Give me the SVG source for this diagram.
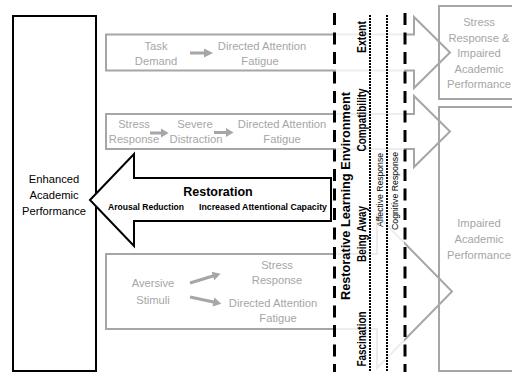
<svg xmlns="http://www.w3.org/2000/svg" width="512" height="376" viewBox="0 0 512 376">
<style>
.g{fill:none;stroke:#a6a6a6;stroke-width:2}
.ga{fill:#a6a6a6;stroke:none}
.gt{font-family:"Liberation Sans",Arial,sans-serif;font-size:11.2px;fill:#a6a6a6;text-anchor:middle}
.bt{font-family:"Liberation Sans",Arial,sans-serif;fill:#000;text-anchor:middle}
.vb{font-weight:bold}
.dash{stroke:#000;stroke-width:3;stroke-dasharray:12 7.5;fill:none}
.dot{stroke:#000;stroke-width:2;stroke-dasharray:2 1;fill:none}
</style>
<rect width="512" height="376" fill="#fff"/>

<g id="enhanced-performance">
<rect x="13" y="16" width="83" height="355" fill="#fff" stroke="#000" stroke-width="2"/>
<text class="bt" font-size="11.2"><tspan x="54" y="183">Enhanced</tspan><tspan x="54" y="199">Academic</tspan><tspan x="54" y="215">Performance</tspan></text>
</g>

<g id="task-demand">
<polygon class="g" points="106,34.5 414,34.5 414,17 450,52.5 414,88 414,70.5 106,70.5"/>
<text class="gt"><tspan x="156" y="50">Task</tspan><tspan x="156" y="64.5">Demand</tspan></text>
<text class="gt"><tspan x="262" y="50">Directed Attention</tspan><tspan x="260" y="64.5">Fatigue</tspan></text>
</g>

<g id="stress-distraction">
<polygon class="g" points="106,114 414,114 414,96 450,131.5 414,167 414,149 106,149"/>
<text class="gt"><tspan x="134" y="128">Stress</tspan><tspan x="134" y="143">Response</tspan></text>
<text class="gt"><tspan x="195" y="128">Severe</tspan><tspan x="196" y="143">Distraction</tspan></text>
<text class="gt"><tspan x="282" y="128">Directed Attention</tspan><tspan x="282" y="143">Fatigue</tspan></text>
</g>

<g id="aversive-stimuli">
<polygon class="g" points="106,254 377,254 377,215 452,291.5 377,368 377,329 106,329"/>
<text class="gt"><tspan x="153" y="287">Aversive</tspan><tspan x="153" y="304">Stimuli</tspan></text>
<text class="gt"><tspan x="277" y="269">Stress</tspan><tspan x="277" y="284">Response</tspan></text>
<text class="gt"><tspan x="273" y="307">Directed Attention</tspan><tspan x="278" y="322">Fatigue</tspan></text>
</g>

<g id="stress-impaired-performance">
<rect class="g" x="439" y="6" width="80" height="93"/>
<text class="gt" font-size="11.5"><tspan x="479" y="26">Stress</tspan><tspan x="479" y="41.5">Response &amp;</tspan><tspan x="479" y="57">Impaired</tspan><tspan x="479" y="72.5">Academic</tspan><tspan x="479" y="88">Performance</tspan></text>
</g>

<g id="impaired-performance">
<rect class="g" x="439" y="107" width="80" height="264"/>
<text class="gt" font-size="11.5"><tspan x="479" y="227">Impaired</tspan><tspan x="479" y="243">Academic</tspan><tspan x="479" y="259">Performance</tspan></text>
</g>

<g id="connectors">
<polygon class="ga" points="190,51.5 204,51.5 204,48.5 213,53 204,57.5 204,54.5 190,54.5"/>
<polygon class="ga" points="150,131.5 161,131.5 161,128.5 168.5,133 161,137.5 161,134.5 150,134.5"/>
<polygon class="ga" points="214,131 226,131 226,128 233.5,132.5 226,137 226,134 214,134"/>
<polygon class="ga" transform="translate(190,283) rotate(-17)" points="0,-1.6 24,-1.6 24,-4.5 32,0 24,4.5 24,1.6 0,1.6"/>
<polygon class="ga" transform="translate(190,297) rotate(12)" points="0,-1.6 24,-1.6 24,-4.5 32,0 24,4.5 24,1.6 0,1.6"/>
</g>

<rect id="zone-fade" x="336" y="0" width="68" height="376" fill="#fff" fill-opacity="0.8"/>

<g id="zone-lines">
<line class="dash" x1="334.5" y1="13" x2="334.5" y2="372"/>
<line class="dash" x1="405" y1="13" x2="405" y2="372"/>
<line class="dot" x1="370" y1="15" x2="370" y2="372"/>
<line class="dot" x1="387" y1="15" x2="387" y2="372"/>
</g>

<g id="restorative-environment">
<text class="bt vb" font-size="13.5" transform="translate(350,196) rotate(-90)" textLength="208" lengthAdjust="spacingAndGlyphs">Restorative Learning Environment</text>
<text class="bt vb" font-size="12.5" transform="translate(366,37) rotate(-90)" textLength="32" lengthAdjust="spacingAndGlyphs">Extent</text>
<text class="bt vb" font-size="12.5" transform="translate(366,120) rotate(-90)" textLength="63" lengthAdjust="spacingAndGlyphs">Compatibility</text>
<text class="bt vb" font-size="12.5" transform="translate(366,234) rotate(-90)" textLength="56" lengthAdjust="spacingAndGlyphs">Being Away</text>
<text class="bt vb" font-size="12.5" transform="translate(366,339) rotate(-90)" textLength="55" lengthAdjust="spacingAndGlyphs">Fascination</text>
<text class="bt" font-size="9" transform="translate(383,190) rotate(-90)" textLength="74" lengthAdjust="spacingAndGlyphs">Affective  Response</text>
<text class="bt" font-size="9" transform="translate(397.5,191) rotate(-90)" textLength="78" lengthAdjust="spacingAndGlyphs">Cognitive  Response</text>
</g>

<g id="restoration">
<polygon points="90,200 134,154 134,178 331,178 331,221 134,221 134,246" fill="#fff" stroke="#000" stroke-width="2"/>
<text class="bt vb" font-size="12.5" x="218" y="196">Restoration</text>
<text class="bt vb" font-size="8.5" x="146" y="210" textLength="76" lengthAdjust="spacingAndGlyphs">Arousal Reduction</text>
<text class="bt vb" font-size="8.5" x="263" y="210" textLength="128" lengthAdjust="spacingAndGlyphs">Increased Attentional Capacity</text>
</g>
</svg>
